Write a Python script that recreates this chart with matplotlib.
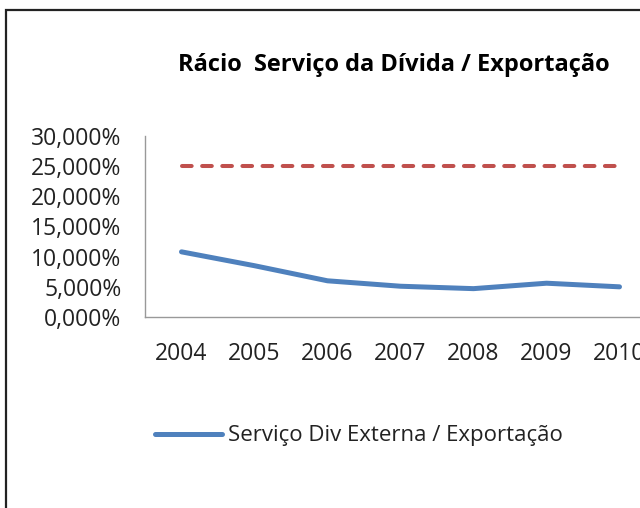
import matplotlib
matplotlib.use("Agg")
import matplotlib.pyplot as plt
from matplotlib.patches import Rectangle
from matplotlib.ticker import FuncFormatter

plt.rcParams['font.family'] = ['Open Sans', 'DejaVu Sans']

# data
years = ['2004', '2005', '2006', '2007', '2008', '2009', '2010']
servico_div = [10.8, 8.5, 6.0, 5.1, 4.7, 5.6, 5.0]
limite = [25.0, 25.0, 25.0, 25.0, 25.0, 25.0, 25.0]

fig = plt.figure(figsize=(6.4, 5.08), dpi=100)

# chart frame (right and bottom edges run off the picture)
frame = Rectangle((6 / 640, -0.1), 1.2, 1 - 10 / 508 + 0.1, transform=fig.transFigure,
                  fill=False, edgecolor='#222222', linewidth=1.6, clip_on=False)
fig.patches.append(frame)

ax = fig.add_axes([145 / 640, 1 - 317 / 508, (656 - 145) / 640, (317 - 136) / 508])
x = range(len(years))
line, = ax.plot(x, servico_div, color='#4F81BD', linewidth=3.6, solid_capstyle='round',
                label='Serviço Div Externa / Exportação')
ax.plot(x, limite, color='#C0504D', linewidth=2.9, linestyle=(0, (2.4, 2.6)),
        dash_capstyle='round')

ax.set_xlim(-0.5, len(years) - 0.5)
ax.set_ylim(0, 30)
ax.set_yticks(range(0, 31, 5))
ax.yaxis.set_major_formatter(FuncFormatter(lambda v, p: f'{v:.3f}%'.replace('.', ',')))
ax.set_xticks(list(x))
ax.set_xticklabels(years)
ax.tick_params(length=0, labelsize=16.5, colors='#222222')
ax.tick_params(axis='x', pad=18)
ax.tick_params(axis='y', pad=17)
for s in ['top', 'right']:
    ax.spines[s].set_visible(False)
for s in ['left', 'bottom']:
    ax.spines[s].set_color('#999999')
    ax.spines[s].set_linewidth(1.0)

fig.text(394 / 640, 1 - 65 / 508, 'Rácio  Serviço da Dívida / Exportação',
         ha='center', va='center', fontsize=17, fontweight='bold', color='black')

fig.legend(handles=[line], loc='center left', bbox_to_anchor=(155 / 640, 1 - 436 / 508),
           frameon=False, fontsize=16, handlelength=3.0, handletextpad=0.3,
           borderpad=0, borderaxespad=0, labelcolor='#222222')

fig.savefig('out.png', dpi=100)
